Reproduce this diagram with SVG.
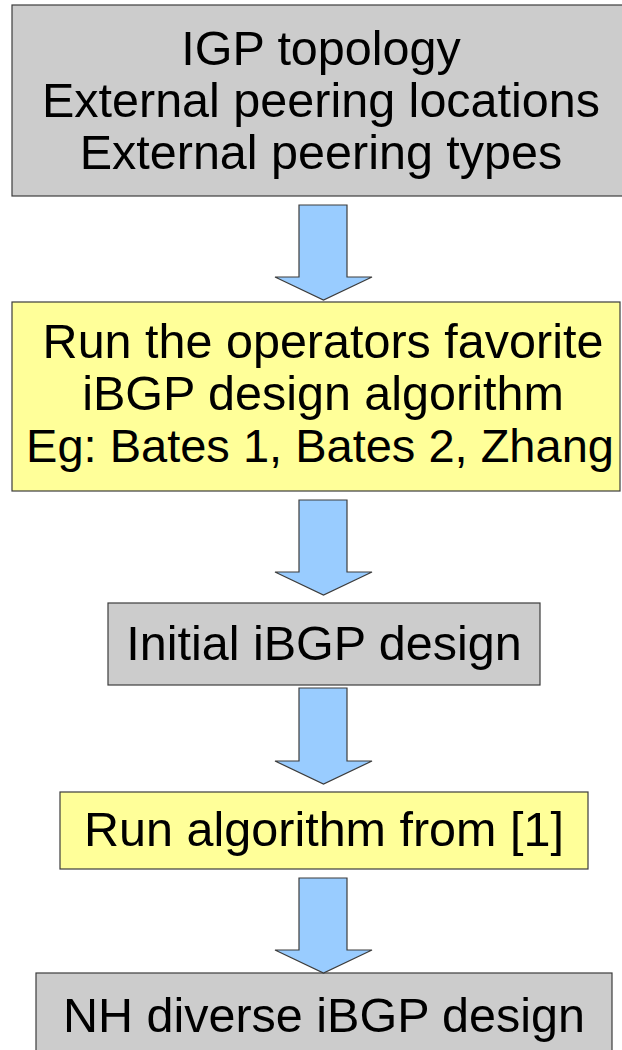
<svg xmlns="http://www.w3.org/2000/svg" width="622" height="1050" viewBox="0 0 622 1050">
<style>
.box{stroke:#3c3c3c;stroke-width:1.2}
.gray{fill:#cccccc}
.yel{fill:#ffff99}
.arr{fill:#99ccff;stroke:#3c3c3c;stroke-width:1.2;stroke-linejoin:miter}
text{font-family:"Liberation Sans",Arial,sans-serif;font-size:48.5px;fill:#000;text-anchor:middle}
text.eg{font-size:47px}
</style>
<rect width="622" height="1050" fill="#fff"/>
<g id="n1">
<rect class="box gray" x="12" y="5" width="620" height="191"/>
<text x="321" y="65">IGP topology</text>
<text x="321" y="117">External peering locations</text>
<text x="321" y="169">External peering types</text>
</g>
<g id="n2">
<rect class="box yel" x="12" y="302" width="608" height="189"/>
<text x="323" y="358">Run the operators favorite</text>
<text x="323" y="410">iBGP design algorithm</text>
<text class="eg" x="320" y="462">Eg: Bates 1, Bates 2, Zhang</text>
</g>
<g id="n3">
<rect class="box gray" x="108" y="603" width="432" height="82"/>
<text x="324" y="660">Initial iBGP design</text>
</g>
<g id="n4">
<rect class="box yel" x="60" y="792" width="528" height="77"/>
<text x="324" y="846">Run algorithm from [1]</text>
</g>
<g id="n5">
<rect class="box gray" x="36" y="973" width="576" height="90"/>
<text x="324" y="1032">NH diverse iBGP design</text>
</g>
<g id="connectors">
<polygon class="arr" points="299,205 347,205 347,277 372,277 323.5,300 275,277 299,277"/>
<polygon class="arr" points="299,500 347,500 347,572 372,572 323.5,595 275,572 299,572"/>
<polygon class="arr" points="299,688 347,688 347,761 372,761 323.5,784 275,761 299,761"/>
<polygon class="arr" points="299,878 347,878 347,950 372,950 323.5,973 275,950 299,950"/>
</g>
</svg>
